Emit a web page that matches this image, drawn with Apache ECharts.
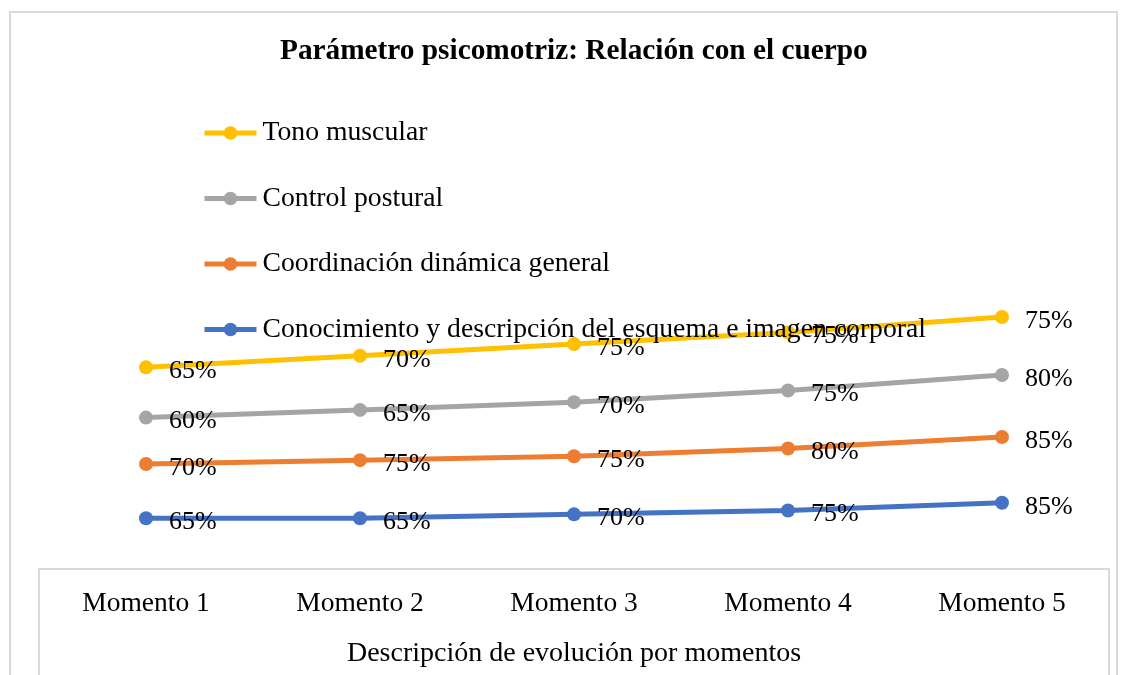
<!DOCTYPE html>
<html>
<head>
<meta charset="utf-8">
<script src="https://cdn.jsdelivr.net/npm/echarts@6/dist/echarts.min.js"></script>
<style>
  html, body { margin: 0; padding: 0; background: #fff; }
  #chart { width: 1127px; height: 675px; }
</style>
</head>
<body>
<div id="chart"></div>
<script>
// Parámetro psicomotriz - líneas apiladas
const momentos = ['Momento 1', 'Momento 2', 'Momento 3', 'Momento 4', 'Momento 5'];
const conocimiento = [65, 65, 70, 75, 85];
const coordinacion = [70, 75, 75, 80, 85];
const controlPostural = [60, 65, 70, 75, 80];
const tonoMuscular = [65, 70, 75, 75, 75];

const serif = '"Liberation Serif", "Times New Roman", serif';

function lineSerie(name, data, color) {
    return {
        name: name,
        type: 'line',
        stack: 'total',
        data: data,
        symbol: 'circle',
        symbolSize: 14,
        itemStyle: { color: color },
        lineStyle: { color: color, width: 5 },
        label: {
            show: true,
            position: 'right',
            distance: 16,
            offset: [0, 4],
            formatter: '{c}%',
            color: '#000',
            fontFamily: serif,
            fontSize: 26
        }
    };
}

const chart = echarts.init(document.getElementById('chart'));
chart.setOption({
    animation: false,
    backgroundColor: '#fff',
    title: {
        text: 'Parámetro psicomotriz: Relación con el cuerpo',
        left: 275,
        top: 32,
        textStyle: { fontFamily: serif, fontSize: 29.3, fontWeight: 'bold', color: '#000' }
    },
    legend: {
        orient: 'vertical',
        left: 197,
        top: 114,
        itemWidth: 52,
        itemHeight: 17,
        itemGap: 37.5,
        lineStyle: { width: 5 },
        data: ['Tono muscular', 'Control postural', 'Coordinación dinámica general',
               'Conocimiento y descripción del esquema e imagen corporal'],
        textStyle: { fontFamily: serif, fontSize: 27.7, color: '#000', padding: [0, 0, 0, 1] }
    },
    grid: { left: 39, right: 18, top: 259, height: 309.5 },
    xAxis: {
        type: 'category',
        data: momentos,
        axisLine: { lineStyle: { color: '#d9d9d9', width: 2 } },
        axisTick: { show: false },
        axisLabel: { fontFamily: serif, fontSize: 27.5, color: '#000', margin: 21 },
        name: 'Descripción de evolución por momentos',
        nameLocation: 'middle',
        nameGap: 71,
        nameTextStyle: { fontFamily: serif, fontSize: 28, color: '#000' }
    },
    yAxis: {
        type: 'value',
        min: 0,
        max: 400,
        show: false,
        splitLine: { show: false }
    },
    graphic: [
        {
            type: 'rect',
            shape: { x: 10, y: 12, width: 1107, height: 700 },
            style: { fill: null, stroke: '#d9d9d9', lineWidth: 2 },
            silent: true
        },
        {
            type: 'rect',
            shape: { x: 39, y: 569, width: 1070, height: 200 },
            style: { fill: null, stroke: '#d9d9d9', lineWidth: 2 },
            silent: true
        }
    ],
    series: [
        lineSerie('Conocimiento y descripción del esquema e imagen corporal', conocimiento, '#4472C4'),
        lineSerie('Coordinación dinámica general', coordinacion, '#ED7D31'),
        lineSerie('Control postural', controlPostural, '#A5A5A5'),
        lineSerie('Tono muscular', tonoMuscular, '#FFC000')
    ]
});
</script>
</body>
</html>
